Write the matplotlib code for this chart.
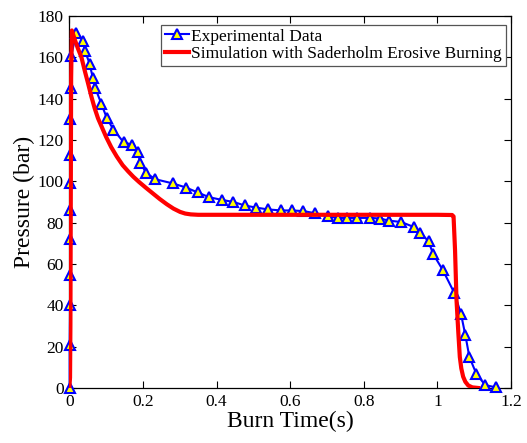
import matplotlib.pyplot as plt

plt.rcParams['font.family'] = ['Liberation Serif', 'DejaVu Serif']
plt.rcParams['mathtext.fontset'] = 'stix'

# experimental pressure trace (bar) vs burn time (s)
exp_t = [0.001, 0.001, 0.002, 0.002, 0.002, 0.003, 0.003, 0.003, 0.003, 0.004, 0.005,
         0.019, 0.037, 0.043, 0.055, 0.064, 0.071, 0.087, 0.102, 0.120, 0.148, 0.170,
         0.186, 0.193, 0.209, 0.234, 0.281, 0.317, 0.349, 0.380, 0.415, 0.446, 0.477,
         0.507, 0.540, 0.576, 0.606, 0.636, 0.667, 0.703, 0.730, 0.755, 0.782, 0.818,
         0.844, 0.868, 0.902, 0.936, 0.954, 0.976, 0.988, 1.015, 1.046, 1.064, 1.076,
         1.087, 1.106, 1.130, 1.159]
exp_p = [0, 20.7, 40, 54.5, 72, 86, 99, 112.5, 130, 145, 160.5,
         172, 168, 163, 157, 150, 145, 137.5, 130.6, 125, 118.8, 117.8,
         114, 109, 104, 101, 99, 97, 94.6, 92.3, 91, 90, 88.3,
         87.3, 86.4, 85.9, 85.9, 85.6, 84.6, 83, 82.3, 82.3, 82.3, 82.3,
         82, 81, 80.3, 77.9, 75, 71, 65, 57, 46, 36, 25.6,
         15, 6.8, 1.4, 0.3]

# simulation with Saderholm erosive burning
sim_t = [0.0, 0.002, 0.003, 0.004, 0.005, 0.007, 0.015, 0.024, 0.033, 0.042, 0.051,
         0.060, 0.069, 0.078, 0.088, 0.100, 0.114, 0.129, 0.145, 0.160, 0.174, 0.190,
         0.208, 0.228, 0.246, 0.265, 0.283, 0.301, 0.315, 0.330, 0.350, 0.400, 0.600,
         0.800, 1.000, 1.040, 1.044, 1.048, 1.052, 1.057, 1.061, 1.065, 1.070, 1.076,
         1.084, 1.095, 1.111]
sim_p = [0, 5, 30, 90, 150, 173, 168.5, 164, 160, 153.5, 147.4,
         141, 135.3, 130.5, 126.4, 121.5, 116.5, 112, 107.8, 104.8, 102.2, 99.6,
         96.9, 94.0, 91.4, 88.9, 86.8, 85.2, 84.4, 84.0, 83.8, 83.8, 83.8,
         83.8, 83.8, 83.7, 83, 66.8, 42.6, 26.6, 15, 9.5, 5.5, 3,
         1.2, 0.3, 0]

fig = plt.figure(figsize=(5.27, 4.43), dpi=100)
ax = fig.add_axes([0.1315, 0.1242, 0.8381, 0.8397])

ax.plot(exp_t, exp_p, color='#0000ff', lw=1.5, marker='^', markersize=6.5,
        markerfacecolor='#ffff00', markeredgecolor='#0000ff', markeredgewidth=1.5,
        clip_on=False, zorder=3, label='Experimental Data')
ax.plot(sim_t, sim_p, color='#ff0000', lw=3, zorder=4,
        label='Simulation with Saderholm Erosive Burning')

ax.set_xlim(0, 1.2)
ax.set_ylim(0, 180)
ax.set_xticks([0, 0.2, 0.4, 0.6, 0.8, 1.0, 1.2])
ax.set_xticklabels(['0', '0.2', '0.4', '0.6', '0.8', '1', '1.2'])
ax.set_yticks(range(0, 181, 20))
ax.tick_params(direction='in', top=True, right=True, length=5, width=0.8,
               labelsize=12.5, pad=4)
for s in ax.spines.values():
    s.set_linewidth(0.9)

ax.set_xlabel('Burn Time(s)', fontsize=17, labelpad=1)
ax.set_ylabel('Pressure (bar)', fontsize=17, labelpad=2)

leg = ax.legend(loc='upper right', bbox_to_anchor=(0.988, 0.976), fontsize=12.5,
                handlelength=1.4, handletextpad=0.15, borderpad=0.2,
                labelspacing=0.1, fancybox=False, framealpha=1, borderaxespad=0)
leg.get_frame().set_edgecolor('#555555')
leg.get_frame().set_linewidth(0.9)

fig.savefig('out.png', dpi=100)
